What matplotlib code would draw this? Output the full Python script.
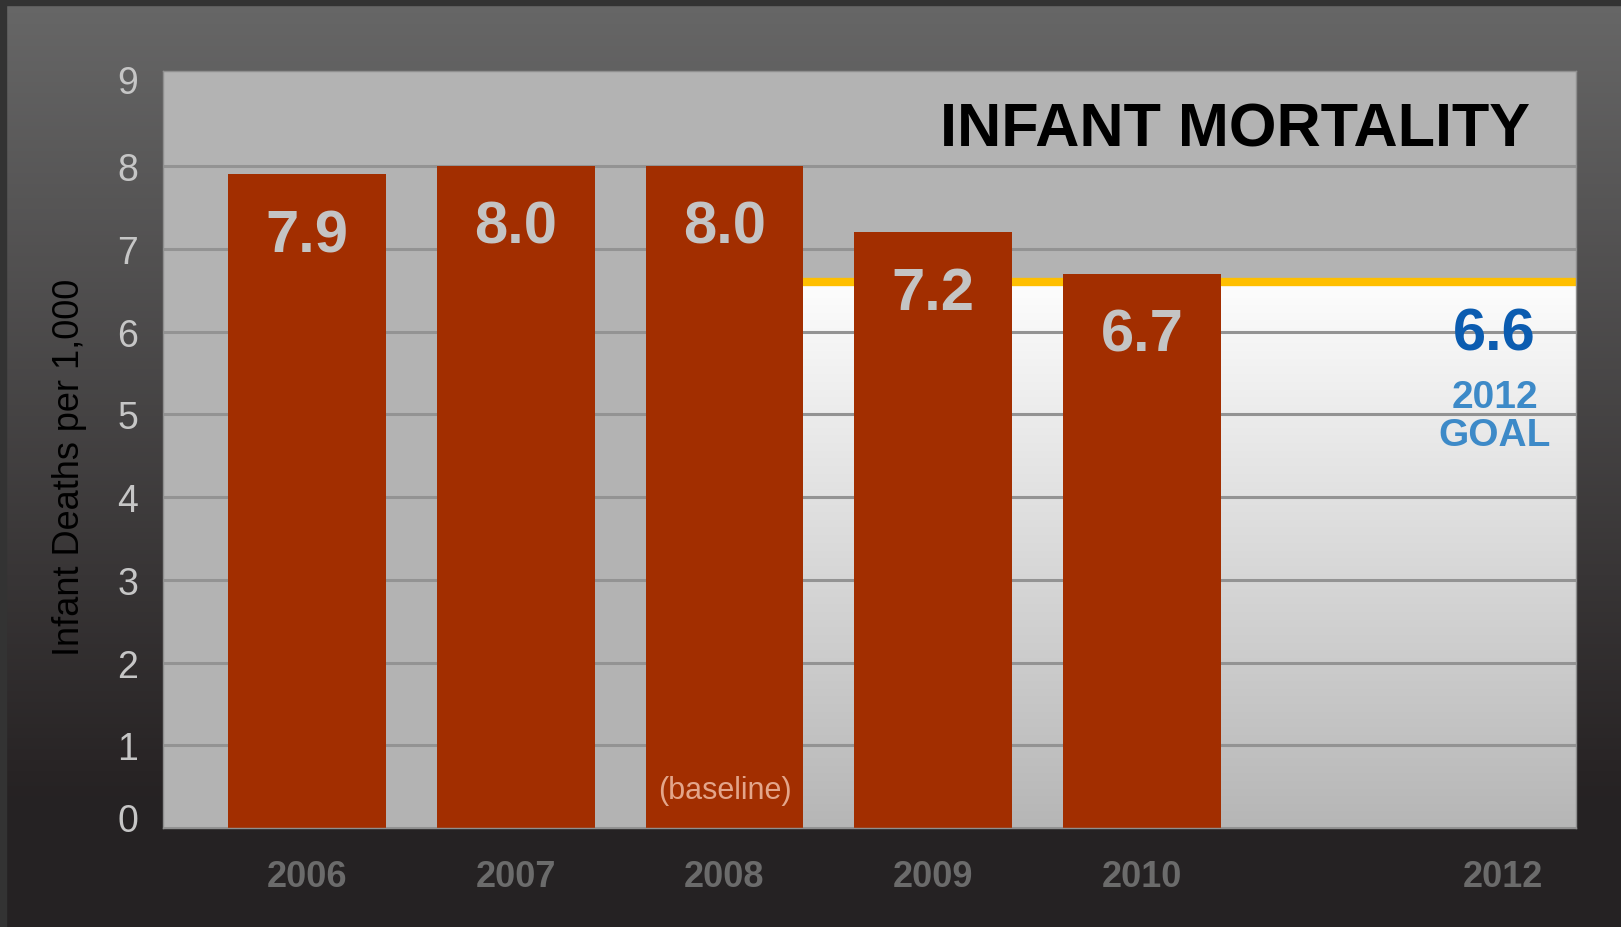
import numpy as np
import matplotlib
matplotlib.use("Agg")
import matplotlib.pyplot as plt
import matplotlib.transforms as mtransforms
from matplotlib.colors import LinearSegmentedColormap
from matplotlib.patches import Rectangle

plt.rcParams['font.family'] = ['Liberation Sans', 'DejaVu Sans']

# data
years = ['2006', '2007', '2008', '2009', '2010']
rates = [7.9, 8.0, 8.0, 7.2, 6.7]
goal_year = '2012'
goal_rate = 6.6
baseline_year = '2008'

BAR_COLOR = '#a22e00'
PLOT_BG = '#b3b3b3'

x = np.arange(len(years))
goal_x = 5.73
bar_w = 0.755

fig = plt.figure(figsize=(16.21, 9.28), dpi=100)

# figure background gradient
bg = fig.add_axes([0, 0, 1, 1], zorder=-10)
bg_cmap = LinearSegmentedColormap.from_list(
    'bg', [(0.0, '#676767'), (0.86, '#262223'), (1.0, '#252223')])
bg.imshow(np.linspace(0, 1, 256).reshape(-1, 1), cmap=bg_cmap,
          aspect='auto', extent=[0, 1, 0, 1], origin='upper')
bg.set_axis_off()
# dark frame on top and left
fig.patches.append(Rectangle((0, 1 - 6 / 928), 1, 6 / 928, transform=fig.transFigure,
                             color='#333333', zorder=-5))
fig.patches.append(Rectangle((0, 0), 6 / 1621, 1, transform=fig.transFigure,
                             color='#333333', zorder=-5))

ax = fig.add_axes([163 / 1621, 99 / 928, 1413 / 1621, 757 / 928])
ax.set_facecolor(PLOT_BG)
ax.set_xlim(-0.69, 6.08)
ax.set_ylim(0, 9.15)

# white-to-grey goal zone right of the baseline bar
base_i = years.index(baseline_year)
zone_left = x[base_i] + bar_w / 2
zone_cmap = LinearSegmentedColormap.from_list('zone', ['#fdfdfd', '#b6b6b6'])
ax.imshow(np.linspace(0, 1, 256).reshape(-1, 1), cmap=zone_cmap, aspect='auto',
          extent=[zone_left, 6.08, 0, goal_rate], origin='upper', zorder=0.2)

ax.set_yticks(range(0, 10))
ax.set_xticks(list(x) + [goal_x])
ax.set_xticklabels(years + [goal_year])

ax.set_axisbelow(True)
ax.yaxis.grid(True, color='#939393', linewidth=2.2)
# no grid line at the very top
ax.get_ygridlines()[-1].set_visible(False)
ax.hlines(goal_rate, zone_left, 6.08, color='#ffbf00', linewidth=6, zorder=1.5)

ax.bar(x, rates, width=bar_w, color=BAR_COLOR, zorder=2)

for xi, r in zip(x, rates):
    ax.annotate(f'{r:.1f}', (xi, r), xytext=(0, -44), textcoords='offset points',
                ha='center', va='center', fontsize=43, fontweight='bold',
                color='#c4c4c4', zorder=3)

ax.text(x[base_i], 0.46, '(baseline)', ha='center', va='center', fontsize=22,
        color='#e3a58a', zorder=3)

# goal annotation
ax.text(5.69, 5.97, f'{goal_rate:.1f}', ha='center', va='center', fontsize=43,
        fontweight='bold', color='#0b5cb0', zorder=3)
ax.text(5.69, 5.21, goal_year, ha='center', va='center', fontsize=28,
        fontweight='bold', color='#3d8ac8', zorder=3)
ax.text(5.69, 4.75, 'GOAL', ha='center', va='center', fontsize=28,
        fontweight='bold', color='#3d8ac8', zorder=3)

ax.text(0.9675, 0.922, 'INFANT MORTALITY', transform=ax.transAxes, ha='right',
        va='center', fontsize=44, fontweight='bold', color='black')

ax.tick_params(axis='y', length=0, pad=18, labelsize=27, labelcolor='#c6c6c6')
ax.tick_params(axis='x', length=0, pad=22, labelsize=26, labelcolor='#6b6b6b')
for lbl in ax.get_xticklabels():
    lbl.set_fontweight('bold')
# the zero label sits a bit higher in the original, the nine too
ylbls = ax.get_yticklabels()
for i, dy in [(0, 8), (9, 3)]:
    ylbls[i].set_transform(ylbls[i].get_transform() +
                           mtransforms.ScaledTranslation(0, dy / 72, fig.dpi_scale_trans))

for s in ax.spines.values():
    s.set_color('#8f8f8f')
    s.set_linewidth(1)

fig.text(70 / 1621, 0.496, 'Infant Deaths per 1,000', rotation=90, ha='center',
         va='center', fontsize=26, color='black')

fig.savefig('out.png', dpi=100)
